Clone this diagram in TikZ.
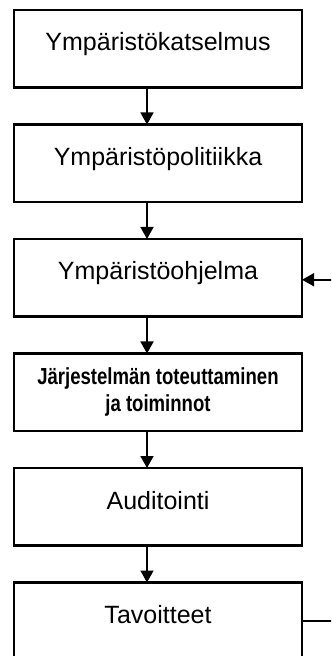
\documentclass[tikz,border=0pt]{standalone}
\usepackage{fontspec}
\setmainfont{Liberation Sans}
\newfontfamily\narrowfont[FakeStretch=0.8]{Liberation Sans}
\usepackage{tikz}
\usetikzlibrary{positioning,arrows.meta}

\begin{document}
\begin{tikzpicture}[box/.style={draw,line width=1.2pt,minimum width=144pt,inner xsep=0pt,inner ysep=0pt,
      outer sep=0pt,font=\fontsize{12.5}{14}\selectfont},
    onerow/.style={text height=20.5pt,text depth=18.25pt},
    flow/.style={line width=0.8pt,-{Triangle[width=6.5pt,length=6pt]}}]
      \useasboundingbox (0,0) rectangle (165.5pt,-328pt);
      \clip (0,0) rectangle (165.5pt,-328pt);
      \node[box,onerow,anchor=north](katselmus) at (79pt,-5pt){Ympäristökatselmus};
      \node[box,onerow,below=18.5pt of katselmus](politiikka){Ympäristöpolitiikka};
      \node[box,onerow,below=18.5pt of politiikka](ohjelma){Ympäristöohjelma};
      \node[box,minimum height=38.75pt,align=center,below=18.5pt of ohjelma,
        font=\narrowfont\bfseries\fontsize{11.6}{13.5}\selectfont](toteutus){Järjestelmän toteuttaminen\\ja toiminnot};
      \node[box,onerow,below=18.5pt of toteutus](auditointi){Auditointi};
      \node[box,onerow,below=18.5pt of auditointi](tavoitteet){Tavoitteet};
      % arrows down the chain
      \draw[flow] ([xshift=-5.5pt]katselmus.south) -- ([xshift=-5.5pt]politiikka.north);
      \draw[flow] ([xshift=-5.5pt]politiikka.south) -- ([xshift=-5.5pt]ohjelma.north);
      \draw[flow] ([xshift=-5.5pt]ohjelma.south) -- ([xshift=-5.5pt]toteutus.north);
      \draw[flow] ([xshift=-5.5pt]toteutus.south) -- ([xshift=-5.5pt]auditointi.north);
      \draw[flow] ([xshift=-5.5pt]auditointi.south) -- ([xshift=-5.5pt]tavoitteet.north);
      % feedback stubs at the right edge
      \coordinate (paluu) at ([xshift=16pt,yshift=-1pt]ohjelma.east);
      \coordinate (lahto) at ([xshift=16pt]tavoitteet.east);
      \draw[flow] (paluu) -- ([yshift=-1pt]ohjelma.east);
      \draw[line width=0.8pt] (tavoitteet.east) -- (lahto);
    \end{tikzpicture}
\end{document}
